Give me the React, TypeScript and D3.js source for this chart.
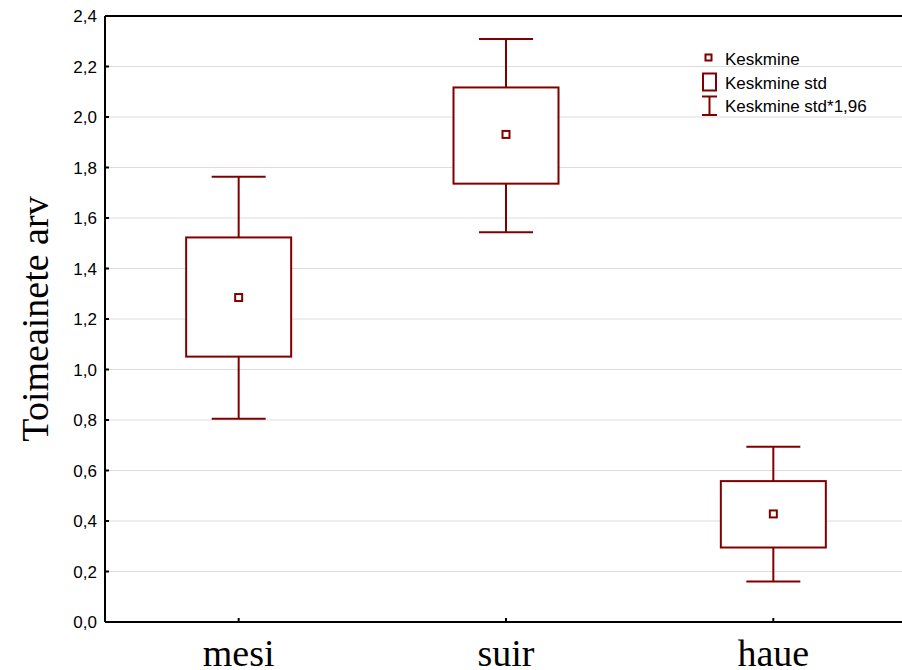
import React from "react";
import * as d3 from "d3";

// Groups and their summary statistics
const categories = ["mesi", "suir", "haue"];
const means = [1.285, 1.931, 0.428];
const boxLow = [1.051, 1.736, 0.295];
const boxHigh = [1.523, 2.117, 0.558];
const whiskerLow = [0.805, 1.544, 0.16];
const whiskerHigh = [1.763, 2.309, 0.694];

const yTicks = [0, 0.2, 0.4, 0.6, 0.8, 1.0, 1.2, 1.4, 1.6, 1.8, 2.0, 2.2, 2.4];
const legendItems = ["Keskmine", "Keskmine std", "Keskmine std*1,96"];

const W = 902;
const H = 670;
const left = 105;
const top = 16;
const bottom = 622;
const RED = "#800000";
const SANS = "'Liberation Sans', Arial, sans-serif";
const SERIF = "'Liberation Serif', 'Times New Roman', serif";

export default function App() {
  const x = d3.scalePoint<string>().domain(categories).range([left, 907]).padding(0.5);
  const y = d3.scaleLinear().domain([0, 2.4]).range([bottom, top]);
  const fmt = (v: number) => d3.format(".1f")(v).replace(".", ",");
  const boxW = 105;
  const capW = 54;

  return (
    <svg
      width={W}
      height={H}
      style={{ position: "absolute", left: 0, top: 0, background: "#fff" }}
    >
      {/* horizontal grid */}
      {yTicks.slice(1, -1).map((t) => (
        <line key={"g" + t} x1={left} x2={W} y1={y(t)} y2={y(t)} stroke="#dcdcdc" strokeWidth={1} />
      ))}

      {/* axes frame */}
      <line x1={left} x2={W} y1={y(2.4)} y2={y(2.4)} stroke="#000" strokeWidth={2} />
      <line x1={left} x2={W} y1={y(0)} y2={y(0)} stroke="#000" strokeWidth={2} />
      <line x1={left} x2={left} y1={y(2.4)} y2={y(0)} stroke="#000" strokeWidth={2} />

      {/* y ticks and labels */}
      {yTicks.map((t) => (
        <g key={"t" + t}>
          <line x1={left} x2={left + 4} y1={y(t)} y2={y(t)} stroke="#000" strokeWidth={2} />
          <text x={97} y={y(t) + 6} textAnchor="end" fontFamily={SANS} fontSize={17} fill="#000">
            {fmt(t)}
          </text>
        </g>
      ))}

      {/* x ticks and labels */}
      {categories.map((c) => (
        <g key={"x" + c}>
          <line x1={x(c)!} x2={x(c)!} y1={bottom} y2={bottom - 4} stroke="#000" strokeWidth={2} />
          <text x={x(c)!} y={666} textAnchor="middle" fontFamily={SERIF} fontSize={38} fill="#000">
            {c}
          </text>
        </g>
      ))}

      {/* y axis title */}
      <text
        transform={`translate(48, ${(top + bottom) / 2}) rotate(-90)`}
        textAnchor="middle"
        fontFamily={SERIF}
        fontSize={38}
        fill="#000"
      >
        Toimeainete arv
      </text>

      {/* boxes */}
      {categories.map((c, i) => {
        const cx = x(c)!;
        return (
          <g key={"b" + c} stroke={RED} strokeWidth={2} fill="none">
            <line x1={cx} x2={cx} y1={y(whiskerHigh[i])} y2={y(boxHigh[i])} />
            <line x1={cx} x2={cx} y1={y(boxLow[i])} y2={y(whiskerLow[i])} />
            <line x1={cx - capW / 2} x2={cx + capW / 2} y1={y(whiskerHigh[i])} y2={y(whiskerHigh[i])} />
            <line x1={cx - capW / 2} x2={cx + capW / 2} y1={y(whiskerLow[i])} y2={y(whiskerLow[i])} />
            <rect
              x={cx - boxW / 2}
              y={y(boxHigh[i])}
              width={boxW}
              height={y(boxLow[i]) - y(boxHigh[i])}
              fill="#fff"
            />
            <rect x={cx - 3.5} y={y(means[i]) - 3.5} width={7} height={7} fill="#fff" />
          </g>
        );
      })}

      {/* legend */}
      <g>
        <rect x={705.5} y={54.5} width={6} height={6} fill="#fff" stroke={RED} strokeWidth={2} />
        <rect x={703} y={73.5} width={13} height={17} fill="#fff" stroke={RED} strokeWidth={2} />
        <g stroke={RED} strokeWidth={2}>
          <line x1={702} x2={717} y1={96.5} y2={96.5} />
          <line x1={702} x2={717} y1={115} y2={115} />
          <line x1={709.5} x2={709.5} y1={96.5} y2={115} />
        </g>
        {legendItems.map((d, i) => (
          <text key={d} x={725} y={65 + i * 23.5} fontFamily={SANS} fontSize={17} fill="#000">
            {d}
          </text>
        ))}
      </g>
    </svg>
  );
}
